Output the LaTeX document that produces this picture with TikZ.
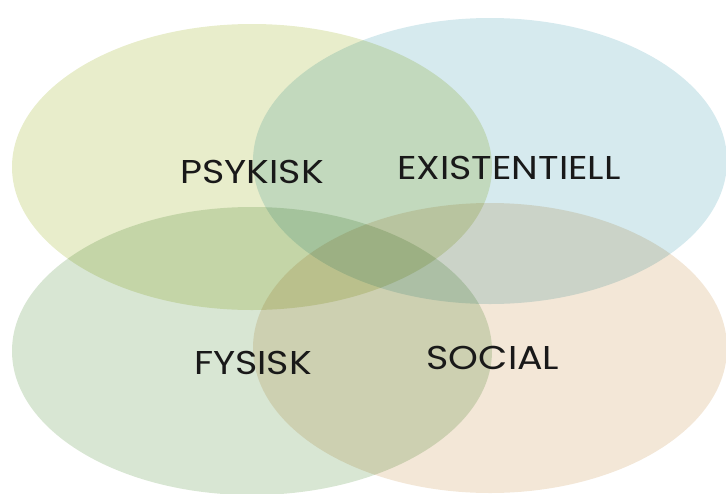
\documentclass[tikz,border=0pt]{standalone}
\usepackage{fontspec}
\setmainfont{Poppins}[FakeStretch=1.15]
\definecolor{cyellow}{HTML}{E8EDCB}
\definecolor{cblue}{HTML}{D6EAEE}
\definecolor{cgreen}{HTML}{D8E6D3}
\definecolor{cpeach}{HTML}{F3E7D7}
\tikzset{
  blob/.style={draw=none},
  lbl/.style={font=\fontsize{33}{36}\selectfont, text=black!90, inner sep=0pt}
}
\begin{document}
\begin{tikzpicture}[x=1pt,y=-1pt]
\useasboundingbox (0,0) rectangle (726,493);
\clip (0,0) rectangle (726,493);
\begin{scope}[blend group=multiply]
  \fill[blob, cyellow] (252,167) ellipse [x radius=240, y radius=143];
  \fill[blob, cblue]   (490,161) ellipse [x radius=237, y radius=143];
  \fill[blob, cgreen]  (252,351) ellipse [x radius=240, y radius=144];
  \fill[blob, cpeach]  (490,348) ellipse [x radius=237, y radius=145];
\end{scope}
\node[lbl] (psy) at (252,172) {PSYKISK};
\node[lbl] (exi) at (509,168) {EXISTENTIELL};
\node[lbl] (fys) at (253,363) {FYSISK};
\node[lbl] (soc) at (493,358) {SOCIAL};
\end{tikzpicture}
\end{document}
